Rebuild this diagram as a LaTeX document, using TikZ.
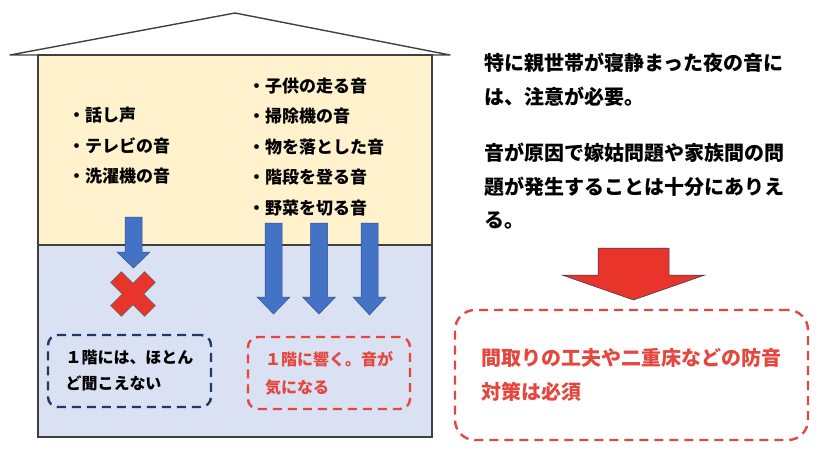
\documentclass[tikz,border=0pt]{standalone}
\usepackage{fontspec}
\setmainfont{Noto Sans CJK JP}
\usetikzlibrary{positioning}
\definecolor{Wall}{HTML}{404040}
\definecolor{Upper}{HTML}{FFF2CC}
\definecolor{Lower}{HTML}{DAE1F2}
\definecolor{Flow}{HTML}{4472C4}
\definecolor{FlowLine}{HTML}{2F528F}
\definecolor{Alarm}{HTML}{E8342A}
\definecolor{Note}{HTML}{E5463E}
\definecolor{Navy}{HTML}{203864}

\begin{document}
\begin{tikzpicture}[x=1pt,y=-1pt,
    wall/.style={draw=Wall,line width=1.4pt},
    soundlist/.style={anchor=west,inner sep=0pt,align=left,
      font=\fontsize{17}{30.5}\selectfont\bfseries},
    remark/.style={anchor=west,inner sep=0pt,align=left,
      font=\fontsize{20}{34}\selectfont\bfseries},
    memo/.style={rounded corners=10pt,dash pattern=on 9pt off 6pt,
      line width=2.4pt,align=left,inner sep=0pt},
    flowarrow/.style={fill=Flow,draw=FlowLine,line width=0.5pt},
    bigarrow/.style={fill=Alarm,draw=Navy,line width=0.5pt}
  ]
    \useasboundingbox (0,0) rectangle (828,459);
    % house
    \draw[wall,fill=Upper] (38,55) rectangle (432,245);
    \draw[wall,fill=Lower] (38,245) rectangle (432,437);
    \draw[wall,line join=round] (10,55) -- (235,13) -- (450,55) -- cycle;
    % sounds upstairs
    \node[soundlist] (quietlist) at (68,146)
      {・話し声\\・テレビの音\\・洗濯機の音};
    \node[soundlist] (loudlist) at (248,147)
      {・子供の走る音\\・掃除機の音\\・物を落とした音\\・階段を登る音\\・野菜を切る音};
    % arrows through the floor
    \foreach \c/\t/\b/\p in {133.5/217/252/268,273.5/223/297/314,
        319/223/297/314,369.5/223/297/315}
      \draw[flowarrow] (\c-8.5,\t) -- (\c+8.5,\t) -- (\c+8.5,\b) -- (\c+16.5,\b)
        -- (\c,\p) -- (\c-16.5,\b) -- (\c-8.5,\b) -- cycle;
    % blocked mark
    \begin{scope}[shift={(133,294)},rotate=45]
      \draw[fill=Alarm,draw=Wall!80,line width=0.6pt]
        (-7.5,-24) -- (7.5,-24) -- (7.5,-7.5) -- (24,-7.5) -- (24,7.5)
        -- (7.5,7.5) -- (7.5,24) -- (-7.5,24) -- (-7.5,7.5) -- (-24,7.5)
        -- (-24,-7.5) -- (-7.5,-7.5) -- cycle;
    \end{scope}
    % results downstairs
    \node[memo,draw=Navy,minimum width=163pt,minimum height=72pt,
      font=\fontsize{16}{26}\selectfont\bfseries] (quiet) at (129.5,371)
      {１階には、ほとん\\ど聞こえない};
    \node[memo,draw=Note,text=Note,minimum width=162pt,minimum height=72pt,
      font=\fontsize{16}{28}\selectfont\bfseries] (loud) at (329,373)
      {１階に響く。音が\\気になる};
    % comments on the right
    \node[remark] (night) at (484,79.5)
      {特に親世帯が寝静まった夜の音に\\は、注意が必要。};
    \node[remark,font=\fontsize{20}{33.5}\selectfont\bfseries] (family) at (484,186.5)
      {音が原因で嫁姑問題や家族間の問\\題が発生することは十分にありえ\\る。};
    \draw[bigarrow] (598,248) -- (669,248) -- (669,275) -- (705,275)
      -- (633.5,300) -- (562,275) -- (598,275) -- cycle;
    \node[memo,draw=Note,text=Note,rounded corners=20pt,minimum width=353pt,
      minimum height=130pt,font=\fontsize{20}{34}\selectfont\bfseries]
      (measure) at (631.5,375)
      {間取りの工夫や二重床などの防音\\対策は必須};
  \end{tikzpicture}
\end{document}
